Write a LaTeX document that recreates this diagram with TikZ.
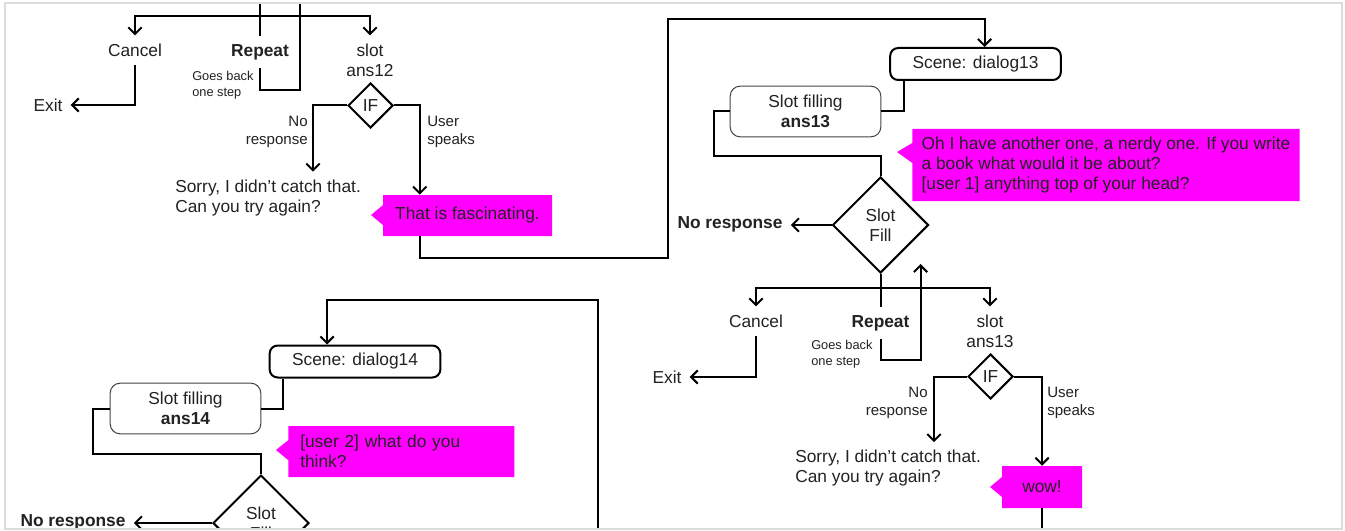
\documentclass[tikz,border=0pt]{standalone}
\usepackage{fontspec}
\setmainfont{Liberation Sans}
\usetikzlibrary{shapes.geometric,shapes.callouts,arrows.meta}

\definecolor{ink}{HTML}{222222}
\definecolor{hot}{HTML}{FF00FF}
\definecolor{rim}{HTML}{DCDCDC}
\definecolor{edge}{HTML}{444444}

\begin{document}
\begin{tikzpicture}[x=0.75pt, y=-0.75pt,
    every node/.style={text=ink, font=\fontsize{13}{15}\selectfont},
    lbl/.style={align=center, inner sep=6pt},
    bold/.style={font=\fontsize{13}{15}\selectfont\bfseries},
    branch/.style={align=left, inner sep=0pt, font=\fontsize{11.3}{13.5}\selectfont},
    note/.style={align=left, inner sep=0pt, font=\fontsize{9.6}{12}\selectfont},
    scene/.style={draw=black, line width=1.5pt, rounded corners=6pt,
                  minimum width=128pt, minimum height=24pt, inner sep=0pt},
    slotbox/.style={draw=edge, line width=0.75pt, rounded corners=7.5pt, align=center,
                    minimum width=113pt, minimum height=38pt, inner sep=0pt},
    check/.style={diamond, draw=black, line width=1.5pt, align=center,
                  inner sep=0pt, minimum size=72pt},
    iff/.style={check, minimum size=33.75pt},
    say/.style={rectangle callout, fill=hot, align=left,
                callout pointer width=15pt, inner xsep=7pt},
    link/.style={line width=1.5pt, draw=black},
    arr/.style={link, -{Straight Barb[length=5pt,width=10pt]}}
  ]
  \useasboundingbox (0,0) rectangle (1345,531);
  \fill[white] (0,0) rectangle (1345,531);

  \begin{scope}
    \clip (5,4) rectangle (1341,528);

    % ---- tail of dialog12
    \coordinate (in12)    at (260,-20);
    \coordinate (split12) at (260,16);
    \coordinate (up12)    at (300,-20);
    \coordinate (bendA)   at (668,258);
    \coordinate (bendB)   at (668,19);

    \node[lbl]       (cancel12) at (135,50)  {Cancel};
    \node[lbl, bold] (repeat12) at (260,52)  {Repeat};
    \node[lbl]       (ask12)    at (370,60)  {slot\\ans12};
    \node[note, anchor=west] (back12) at (192,85) {Goes back\\one step};
    \node[lbl]       (exit12)   at (48,105)  {Exit};
    \node[iff]       (if12)     at (370.5,105.5) {IF};
    \node[branch, anchor=east, align=right] (no12) at (308,132) {No\\response};
    \node[branch, anchor=west] (yes12) at (427,132) {User\\speaks};
    \node[lbl, anchor=west, align=left, inner xsep=0pt] (sorry12) at (175,198)
         {Sorry, I didn’t catch that.\\Can you try again?};
    \node[say, minimum width=126.75pt, minimum height=30.75pt,
          callout absolute pointer={(371,215)}] (fasc) at (467.5,215.5)
         {That is fascinating.};

    \draw[link] (in12) -- (repeat12.north);
    \draw[arr]  (split12) -| (cancel12.north);
    \draw[arr]  (split12) -| (ask12.north);
    \draw[arr]  (repeat12.south) |- ++(40,22) -- (up12);
    \draw[arr]  (cancel12.south) |- (exit12.east);
    \draw[arr]  (if12.west) -| ([xshift=103.5pt]sorry12.north west);
    \draw[arr]  (if12.east) -| ([xshift=27.75pt]fasc.north west);

    % ---- dialog13
    \node[scene]   (scene13) at (975.5,64)    {Scene: dialog13};
    \node[slotbox] (slot13)  at (805.5,111.5) {Slot filling\\\textbf{ans13}};
    \node[say, anchor=west, minimum height=54pt,
          callout absolute pointer={(897,152)}] (nerdy) at (912,165)
         {Oh I have another one, a nerdy one. If you write\\a book what would it be about?\\{[user 1]} anything top of your head?};
    \node[check]     (fill13)   at (880.5,225) {Slot\\Fill};
    \node[lbl, bold] (none13)   at (730,224)   {No response};
    \node[lbl]       (cancel13) at (756,321)   {Cancel};
    \node[lbl, bold] (repeat13) at (880.5,323) {Repeat};
    \node[lbl]       (ask13)    at (990,331)   {slot\\ans13};
    \node[note, anchor=west] (back13) at (811,354) {Goes back\\one step};
    \node[lbl]       (exit13)   at (667,377)   {Exit};
    \node[iff]       (if13)     at (990.5,376.5) {IF};
    \node[branch, anchor=east, align=right] (no13) at (928,403) {No\\response};
    \node[branch, anchor=west] (yes13) at (1047,403) {User\\speaks};
    \node[lbl, anchor=west, align=left, inner xsep=0pt] (sorry13) at (795,468.5)
         {Sorry, I didn’t catch that.\\Can you try again?};
    \node[say, minimum width=60pt, minimum height=31.5pt,
          callout absolute pointer={(990,487)}] (wow) at (1042,487) {wow!};
    \coordinate (out13) at (1042,545);

    \draw[arr]  ([xshift=27.75pt]fasc.south west) |- (bendA) -- (bendB)
                -| ([xshift=6.75pt]scene13.north);
    \draw[link] ([xshift=-54pt]scene13.south) |- (slot13.east);
    \draw[link] (slot13.west) -- ++(-16,0) |- ([yshift=15pt]fill13.north) -- (fill13.north);
    \draw[arr]  (fill13.west) -- (fill13.west -| none13.east);
    \draw[link] (fill13.south) -- (repeat13.north);
    \draw[arr]  ([yshift=-10.5pt]fill13.south) -| (cancel13.north);
    \draw[arr]  ([yshift=-10.5pt]fill13.south) -| (ask13.north);
    \draw[arr]  (repeat13.south) |- ++(40,21) -- ([xshift=30pt,yshift=7.5pt]fill13.south);
    \draw[arr]  (cancel13.south) |- (exit13.east);
    \draw[arr]  (if13.west) -| ([xshift=104.25pt]sorry13.north west);
    \draw[arr]  (if13.east) -| (wow.north);
    \draw[link] (wow.south) -- (out13);

    % ---- dialog14
    \coordinate (in14)   at (598,545);
    \coordinate (bend14) at (598,300);

    \node[scene]   (scene14) at (355,361.5)   {Scene: dialog14};
    \node[slotbox] (slot14)  at (185.5,408.5) {Slot filling\\\textbf{ans14}};
    \node[say, anchor=west, text width=151.5pt, inner xsep=9pt, minimum height=38.25pt,
          callout absolute pointer={(276,450)}] (user2) at (288,451.5)
         {{[user 2]} what do you\\think?};
    \node[check]     (fill14) at (261,523) {Slot\\Fill};
    \node[lbl, bold] (none14) at (73,522)  {No response};

    \draw[arr]  (in14) -- (bend14) -| ([xshift=-21pt]scene14.north);
    \draw[link] ([xshift=-54pt]scene14.south) |- (slot14.east);
    \draw[link] (slot14.west) -- ++(-17,0) |- ([yshift=15pt]fill14.north) -- (fill14.north);
    \draw[arr]  (fill14.west) -- (fill14.west -| none14.east);
  \end{scope}

  \draw[rim, line width=1.5pt] (4.5,3) rectangle (1342,529);
\end{tikzpicture}
\end{document}
